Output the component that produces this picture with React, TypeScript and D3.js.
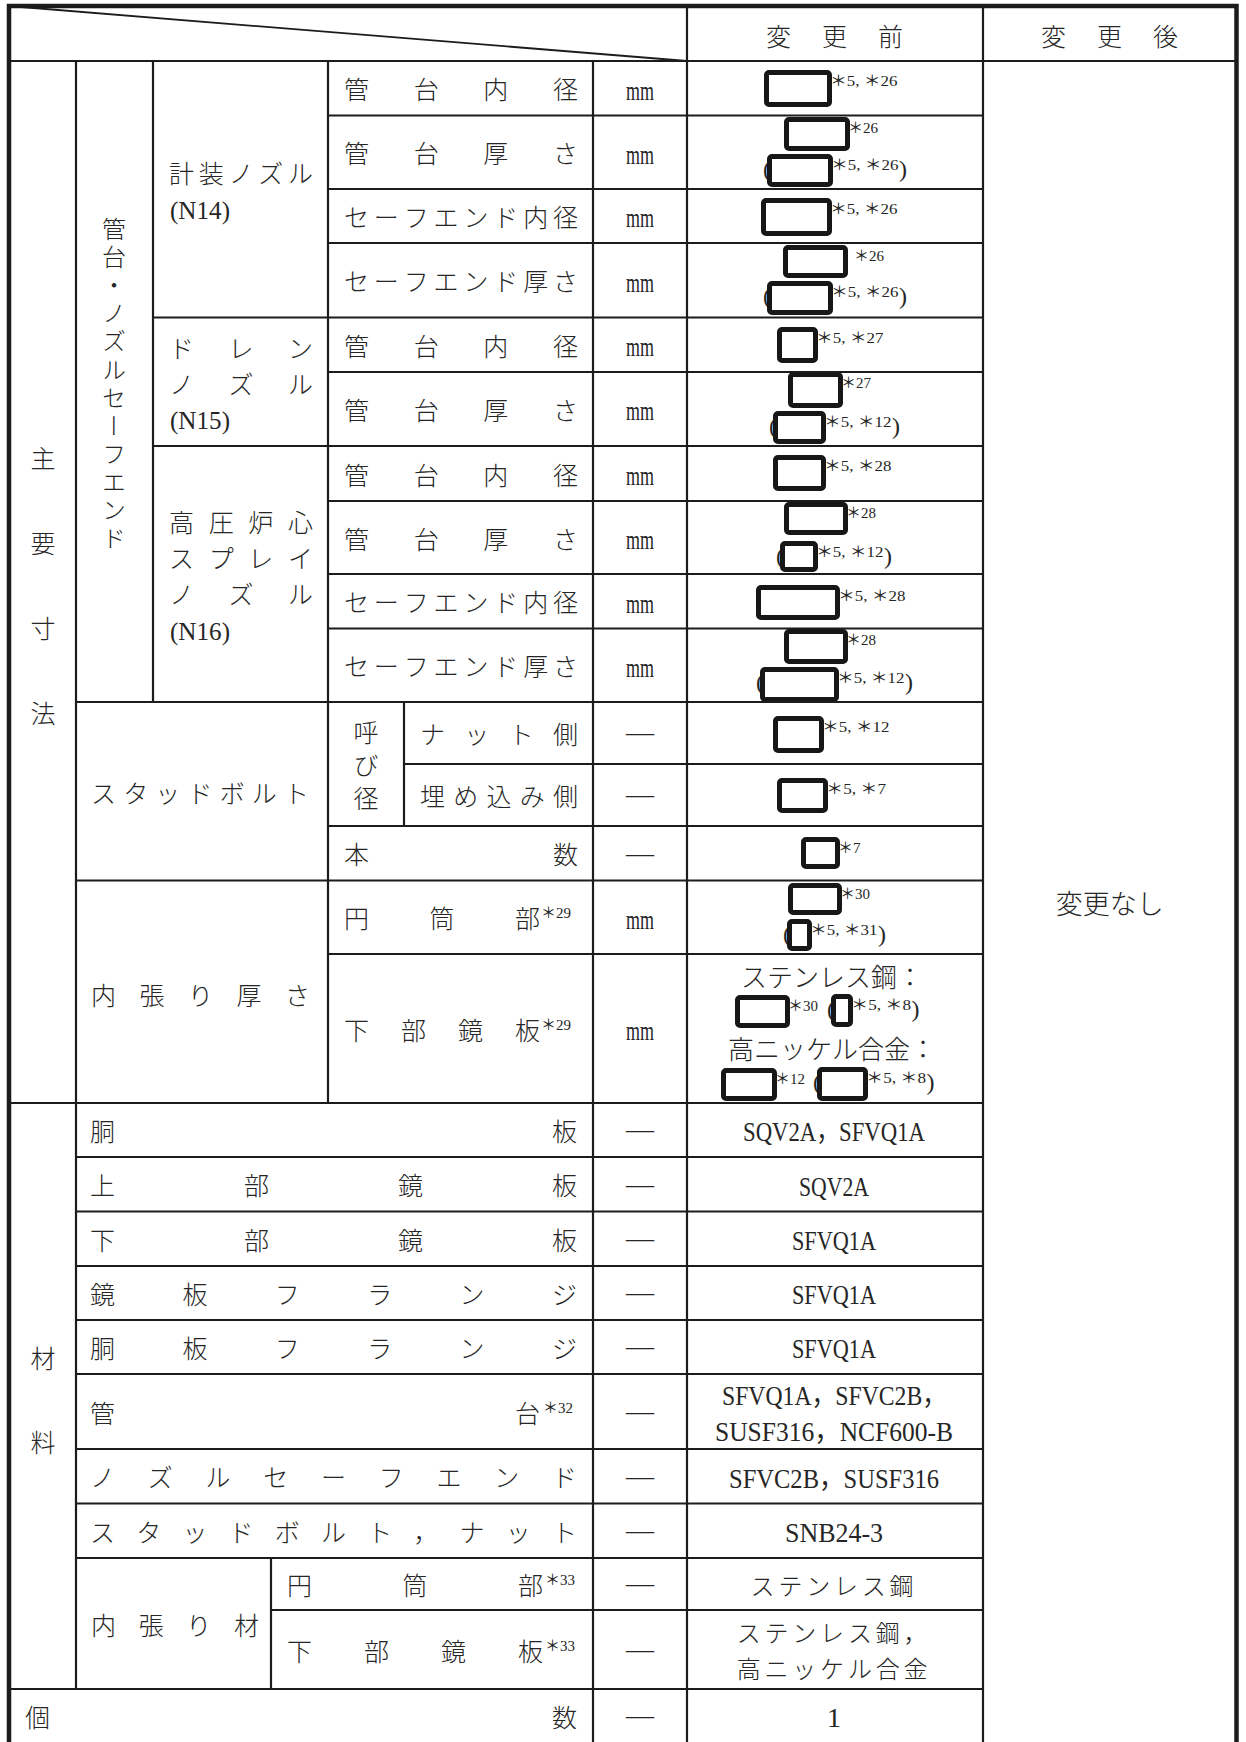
import React, { useEffect, useRef } from 'react';
import * as d3 from 'd3';

const W = 1246;
const H = 1742;

// ---------- table content ----------
const headerCols = ['変更前', '変更後'];
const afterText = '変更なし';

const dimSection = '主要寸法';
const matSection = '材料';
const nozzleSection = '管台・ノズルセーフエンド';
const nozzleNames = [
  ['計装ノズル', '(N14)'],
  ['ドレン', 'ノズル', '(N15)'],
  ['高圧炉心', 'スプレイ', 'ノズル', '(N16)'],
];
const nozzleRows = [
  ['管台内径', '管台厚さ', 'セーフエンド内径', 'セーフエンド厚さ'],
  ['管台内径', '管台厚さ'],
  ['管台内径', '管台厚さ', 'セーフエンド内径', 'セーフエンド厚さ'],
];
const studLabel = 'スタッドボルト';
const studSub = '呼び径';
const studRows = ['ナット側', '埋め込み側', '本数'];
const liningLabel = '内張り厚さ';
const liningRows = ['円筒部', '下部鏡板'];
const liningNote = '*29';
const dimUnits = ['mm', 'mm', 'mm', 'mm', 'mm', 'mm', 'mm', 'mm', 'mm', 'mm', '—', '—', '—', 'mm', 'mm'];

// 変更前: each row is a list of lines; a line is plain text or a list of masked values with footnotes
const dimValues: (string | string[])[][] = [
  [['*5, *26']],
  [['*26'], ['(*5, *26)']],
  [['*5, *26']],
  [['*26'], ['(*5, *26)']],
  [['*5, *27']],
  [['*27'], ['(*5, *12)']],
  [['*5, *28']],
  [['*28'], ['(*5, *12)']],
  [['*5, *28']],
  [['*28'], ['(*5, *12)']],
  [['*5, *12']],
  [['*5, *7']],
  [['*7']],
  [['*30'], ['(*5, *31)']],
  ['ステンレス鋼：', ['*30', '(*5, *8)'], '高ニッケル合金：', ['*12', '(*5, *8)']],
];

const materialParts = ['胴板', '上部鏡板', '下部鏡板', '鏡板フランジ', '胴板フランジ', '管台', 'ノズルセーフエンド', 'スタッドボルト，ナット'];
const materialNotes = ['', '', '', '', '', '*32', '', ''];
const materialValues = [
  ['SQV2A，SFVQ1A'],
  ['SQV2A'],
  ['SFVQ1A'],
  ['SFVQ1A'],
  ['SFVQ1A'],
  ['SFVQ1A，SFVC2B，', 'SUSF316，NCF600-B'],
  ['SFVC2B，SUSF316'],
  ['SNB24-3'],
];
const liningMatLabel = '内張り材';
const liningMatParts = ['円筒部', '下部鏡板'];
const liningMatNote = '*33';
const liningMatValues = [['ステンレス鋼'], ['ステンレス鋼，', '高ニッケル合金']];
const countLabel = '個数';
const countValue = '1';

// ---------- layout ----------
const X = { L: 9, c1: 76, c2: 153, c3: 328, c4: 404, lin: 271, c5: 593, c6: 687, c7: 983, R: 1236.5 };
const TOP = 6;
const HEAD = 61;
const dimEdges = [61, 115.5, 189, 243, 317.5, 372, 446, 501, 574, 628.5, 702, 764, 826, 880.5, 954, 1103];
const matEdges = [1103, 1157, 1211.5, 1266, 1320, 1374, 1449, 1503.5, 1558, 1610, 1689, 1743];
const maskBoxes = [
  [764, 70, 832, 107], [784, 117, 850, 151], [767, 154, 833, 187], [761, 198, 832, 236],
  [783, 245, 848, 278], [767, 281, 833, 315], [777, 327, 818, 363], [788, 372, 843, 408],
  [773, 411, 826, 444], [773, 455, 826, 491], [784, 502, 848, 535], [780, 541, 818, 572],
  [756, 585, 840, 620], [784, 629, 848, 664], [760, 667, 839, 702], [773, 716, 824, 753],
  [777, 778, 828, 813], [801, 837, 840, 869], [788, 883, 842, 915], [787, 919, 812, 951],
  [735, 995, 790, 1028], [831, 994, 853, 1027], [721, 1068, 777, 1101], [817, 1067, 868, 1101],
];
const maskNoteDx: Record<number, number> = { 4: 8 };
const textLineY = [976, 1048];

const INK = '#262626';
const LINE = '#1c1c1c';
const JP = "'Noto Sans CJK JP', 'Noto Sans CJK SC', sans-serif";
const SERIF = "'Liberation Serif', 'Noto Sans CJK JP', serif";

const units = (s: string) => Array.from(s).reduce((a, c) => a + (c.charCodeAt(0) > 0xff ? 1 : 0.5), 0);
const mid = (a: number, b: number) => (a + b) / 2;

export default function App() {
  const ref = useRef<SVGSVGElement | null>(null);

  useEffect(() => {
    const svg = d3.select(ref.current);
    svg.selectAll('*').remove();
    svg.append('rect').attr('width', W).attr('height', H).attr('fill', '#fff');

    const txt = svg.append('g').attr('fill', INK);

    const jpText = (s: string, x: number, cy: number, fs = 25, anchor = 'middle') =>
      txt.append('text')
        .attr('x', x)
        .attr('y', cy + 0.38 * fs + 1.5)
        .attr('font-family', JP)
        .attr('font-size', fs)
        .attr('font-weight', 300)
        .attr('text-anchor', anchor)
        .text(s);

    const latin = (s: string, x: number, cy: number, fs = 28, anchor = 'middle', w = fs) =>
      txt.append('text')
        .attr('x', x)
        .attr('y', cy + 0.37 * fs + 1)
        .attr('font-family', SERIF)
        .attr('font-size', fs)
        .attr('text-anchor', anchor)
        .attr('textLength', units(s) * w)
        .attr('lengthAdjust', 'spacingAndGlyphs')
        .text(s);

    const note = (s: string, x: number, base: number) => {
      const t = s.replace(/\*/g, '＊');
      txt.append('text')
        .attr('x', x)
        .attr('y', base)
        .attr('font-family', SERIF)
        .attr('font-size', 15)
        .attr('textLength', units(t) * 15)
        .attr('lengthAdjust', 'spacingAndGlyphs')
        .text(t);
      return x + units(t) * 15;
    };

    // justified characters between x0 and x1
    const spread = (s: string, x0: number, x1: number, cy: number, fs = 25) => {
      const chars = Array.from(s);
      const pos = d3.scalePoint<number>().domain(d3.range(chars.length)).range([x0 + fs / 2, x1 - fs / 2]);
      chars.forEach((c, i) => jpText(c, pos(i)!, cy, fs));
    };

    // vertical writing, one text element, centred on cy
    const vertical = (s: string, cx: number, cy: number, pitch: number, fs = 24) =>
      txt.append('text')
        .attr('x', cx)
        .attr('y', cy + (pitch - fs) / 2)
        .attr('writing-mode', 'vertical-rl')
        .attr('text-anchor', 'middle')
        .attr('font-family', JP)
        .attr('font-size', fs)
        .attr('font-weight', 300)
        .attr('letter-spacing', pitch - fs)
        .text(s);

    const labelRow = (s: string, x0: number, cy: number, nt = '') => {
      if (nt) {
        spread(s, x0, 540, cy);
        note(nt, 541, cy + 1);
      } else {
        spread(s, x0, 578, cy);
      }
    };

    const unit = (u: string, cy: number) => {
      if (u === '—') latin(u, mid(X.c5, X.c6), cy - 3);
      else latin(u, mid(X.c5, X.c6), cy);
    };

    const VAL_X = 834;

    // ---- header ----
    const hy = mid(TOP, HEAD) + 1;
    spread(headerCols[0], 766, 903, hy);
    spread(headerCols[1], 1041, 1178, hy);

    // ---- dimension section ----
    vertical(dimSection, 43, mid(HEAD, dimEdges[dimEdges.length - 1]) + 4, 85, 25);
    vertical(nozzleSection, 114, mid(HEAD, dimEdges[10]) + 2, 28.1, 24);

    let r = 0;
    nozzleRows.forEach((items, g) => {
      const top = dimEdges[r];
      const bot = dimEdges[r + items.length];
      const names = nozzleNames[g];
      const gc = mid(top, bot) + 1;
      names.forEach((nm, i) => {
        const cy = gc + (i - (names.length - 1) / 2) * 36;
        if (nm.startsWith('(')) latin(nm, 170, cy, 26, 'start', 24);
        else spread(nm, 169, 313, cy);
      });
      items.forEach((it) => {
        labelRow(it, 344, mid(dimEdges[r], dimEdges[r + 1]));
        r++;
      });
    });

    // stud bolt
    const studTop = dimEdges[r];
    spread(studLabel, 91, 309, mid(studTop, dimEdges[r + 3]) + 1);
    vertical(studSub, mid(X.c3, X.c4), mid(studTop, dimEdges[r + 2]) + 1, 33, 25);
    studRows.forEach((it, i) => {
      labelRow(it, i < 2 ? 420 : 344, mid(dimEdges[r], dimEdges[r + 1]));
      r++;
    });

    // lining thickness
    spread(liningLabel, 91, 310, mid(dimEdges[r], dimEdges[r + 2]) + 2);
    liningRows.forEach((it) => {
      labelRow(it, 344, mid(dimEdges[r], dimEdges[r + 1]), liningNote);
      r++;
    });

    dimUnits.forEach((u, i) => unit(u, mid(dimEdges[i], dimEdges[i + 1])));

    // masked values
    const masks = svg.append('g');
    let bi = 0;
    dimValues.forEach((lines) => {
      let ti = 0;
      lines.forEach((line) => {
        if (typeof line === 'string') {
          jpText(line, VAL_X - 2, textLineY[ti++], 26);
          return;
        }
        line.forEach((nv) => {
          const [x0, y0, x1, y1] = maskBoxes[bi];
          const dx = maskNoteDx[bi] ?? 0;
          bi++;
          const paren = nv.startsWith('(');
          const nt = paren ? nv.slice(1, -1) : nv;
          if (paren) {
            txt.append('text').attr('x', x0 - 4).attr('y', y0 + 23)
              .attr('font-family', SERIF).attr('font-size', 24).text('(');
          }
          const end = note(nt, x1 - 2 + dx, y0 + 16);
          if (paren) {
            txt.append('text').attr('x', end + 0.5).attr('y', y0 + 23)
              .attr('font-family', SERIF).attr('font-size', 24).text(')');
          }
          masks.append('rect')
            .attr('x', x0 + 2.5)
            .attr('y', y0 + 2.5)
            .attr('width', x1 - x0 - 5)
            .attr('height', y1 - y0 - 5)
            .attr('rx', 2.5)
            .attr('fill', '#fff')
            .attr('stroke', '#171717')
            .attr('stroke-width', 5);
        });
      });
    });

    // ---- materials ----
    const matTop = matEdges[0];
    vertical(matSection, 43, mid(matTop, matEdges[10]) + 4, 84, 25);

    const valueLines = (vals: string[], cy: number) => {
      vals.forEach((v, i) => {
        const y = cy + (i - (vals.length - 1) / 2) * 36;
        if (/[A-Z0-9]/.test(v)) latin(v, VAL_X, y);
        else jpText(v, VAL_X, y, 24).attr('letter-spacing', 3.8);
      });
    };

    materialParts.forEach((p, i) => {
      const cy = mid(matEdges[i], matEdges[i + 1]);
      if (materialNotes[i]) {
        spread(p, 90, 540, cy);
        note(materialNotes[i], 543, cy + 1);
      } else {
        spread(p, 90, 577, cy);
      }
      unit('—', cy);
      valueLines(materialValues[i], cy);
    });

    const lm0 = materialParts.length;
    spread(liningMatLabel, 91, 259, mid(matEdges[lm0], matEdges[lm0 + 2]));
    liningMatParts.forEach((p, i) => {
      const cy = mid(matEdges[lm0 + i], matEdges[lm0 + i + 1]);
      spread(p, 287, 543, cy);
      note(liningMatNote, 545, cy + 1);
      unit('—', cy);
      valueLines(liningMatValues[i], cy);
    });

    const cyCount = mid(matEdges[10], matEdges[11]);
    spread(countLabel, 25, 577, cyCount);
    unit('—', cyCount);
    latin(countValue, VAL_X, cyCount);

    // 変更後
    jpText(afterText, mid(X.c7, X.R), 902, 27);

    // ---- grid lines ----
    const grid = svg.append('g').attr('stroke', LINE).attr('stroke-width', 2.2).attr('fill', 'none');
    const hl = (y: number, xa: number, xb: number) =>
      grid.append('line').attr('x1', xa).attr('x2', xb).attr('y1', y).attr('y2', y);
    const vl = (x: number, ya: number, yb: number) =>
      grid.append('line').attr('x1', x).attr('x2', x).attr('y1', ya).attr('y2', yb);

    hl(HEAD, X.L, X.R);
    dimEdges.slice(1).forEach((y, i) => {
      let xa = X.c3;
      if (i === 3 || i === 5) xa = X.c2;
      if (i === 9 || i === 12) xa = X.c1;
      if (i === 10) xa = X.c4;
      if (i === dimEdges.length - 2) xa = X.L;
      hl(y, xa, X.c7);
    });
    matEdges.slice(1, -1).forEach((y, j) => {
      let xa = X.c1;
      if (j === 8) xa = X.lin;
      if (j === 9) xa = X.L;
      hl(y, xa, X.c7);
    });

    const bottom = H + 10;
    vl(X.c1, HEAD, matEdges[10]);
    vl(X.c2, HEAD, dimEdges[10]);
    vl(X.c3, HEAD, dimEdges[15]);
    vl(X.c4, dimEdges[10], dimEdges[12]);
    vl(X.lin, matEdges[8], matEdges[10]);
    vl(X.c5, HEAD, bottom);
    vl(X.c6, TOP, bottom);
    vl(X.c7, TOP, bottom);
    grid.append('line').attr('x1', X.L).attr('y1', TOP).attr('x2', X.c6).attr('y2', HEAD).attr('stroke-width', 1.8);

    // outer frame
    svg.append('path')
      .attr('d', `M${X.L},${bottom}V${TOP}H${X.R}V${bottom}`)
      .attr('fill', 'none')
      .attr('stroke', LINE)
      .attr('stroke-width', 4.5);
  }, []);

  return (
    <svg
      ref={ref}
      width={W}
      height={H}
      style={{ position: 'absolute', left: 0, top: 0, display: 'block', background: '#fff' }}
    />
  );
}
